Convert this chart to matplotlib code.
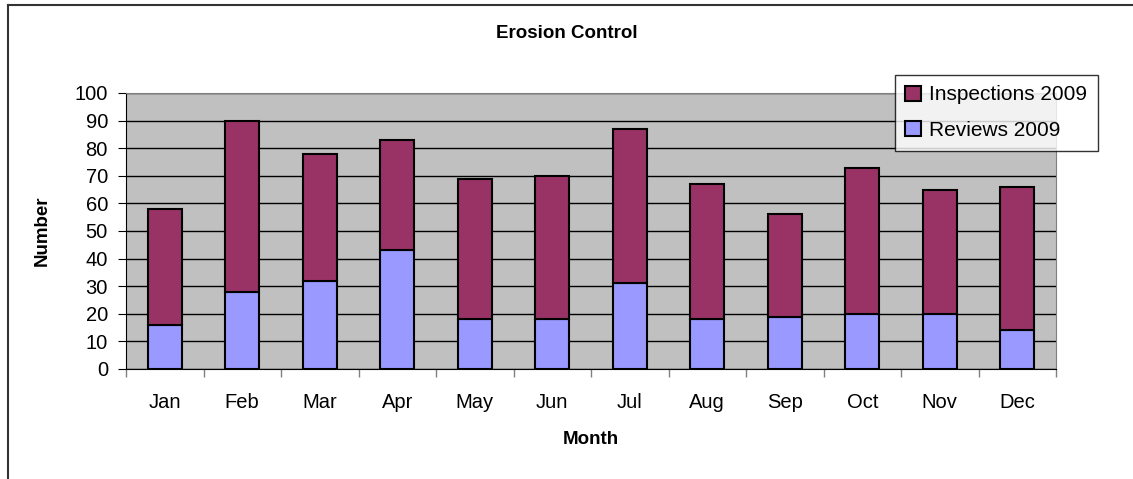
import matplotlib
matplotlib.use('Agg')
import matplotlib.pyplot as plt
import numpy as np
from matplotlib.lines import Line2D

months = ['Jan', 'Feb', 'Mar', 'Apr', 'May', 'Jun', 'Jul', 'Aug', 'Sep', 'Oct', 'Nov', 'Dec']
reviews = [16, 28, 32, 43, 18, 18, 31, 18, 19, 20, 20, 14]
inspections = [42, 62, 46, 40, 51, 52, 56, 49, 37, 53, 45, 52]

plt.rcParams['font.family'] = ['Liberation Sans', 'DejaVu Sans']

fig = plt.figure(figsize=(11.33, 4.79), dpi=100)
ax = fig.add_axes([126 / 1133, 1 - 369 / 479, (1056 - 126) / 1133, (369 - 93) / 479])
ax.set_facecolor('#C0C0C0')

x = np.arange(len(months))
w = 0.44
ax.bar(x, reviews, w, color='#9999FF', edgecolor='black', linewidth=1.5,
       label='Reviews 2009', zorder=3)
ax.bar(x, inspections, w, bottom=reviews, color='#993366', edgecolor='black',
       linewidth=1.5, label='Inspections 2009', zorder=3)

ax.set_xlim(-0.5, 11.5)
ax.set_ylim(0, 100)
ax.set_yticks(range(0, 101, 10))
ax.yaxis.grid(True, color='black', linewidth=1, zorder=1)
ax.set_axisbelow(True)

ax.set_xticks(x)
ax.set_xticklabels(months)
ax.set_xticks(np.arange(-0.5, 12, 1), minor=True)
ax.tick_params(axis='x', which='major', length=0, pad=17, labelsize=14.5)
ax.tick_params(axis='x', which='minor', length=6, color='#808080', width=1)
ax.tick_params(axis='y', length=6, color='black', labelsize=14.5, pad=7)

for s in ['top', 'right']:
    ax.spines[s].set_color('#808080')
ax.spines['left'].set_color('black')
ax.spines['bottom'].set_color('black')

ax.set_xlabel('Month', fontsize=13.5, fontweight='bold')
ax.set_ylabel('Number', fontsize=13.5, fontweight='bold')
ax.xaxis.set_label_coords(0.5, (369 - 440) / 276)
ax.yaxis.set_label_coords((42 - 126) / 930, 0.5)
ax.xaxis.label.set_va('center')
ax.yaxis.label.set_va('center')
fig.text(567 / 1133, 1 - 33 / 479, 'Erosion Control', ha='center', va='center',
         fontsize=13.5, fontweight='bold')

handles, labels = ax.get_legend_handles_labels()
leg = fig.legend(handles[::-1], labels[::-1], loc='upper left',
                 bbox_to_anchor=(895 / 1133, 1 - 75 / 479), fontsize=15,
                 frameon=True, fancybox=False, edgecolor='black',
                 handlelength=0.75, handleheight=0.75, handletextpad=0.4,
                 borderaxespad=0, labelspacing=0.8, borderpad=0.5)
leg.get_frame().set_linewidth(1)

# outer chart border
fig.add_artist(Line2D([7.5 / 1133, 7.5 / 1133], [0, 1 - 4.5 / 479], color='#333333', lw=1.5))
fig.add_artist(Line2D([7.5 / 1133, 1], [1 - 4.5 / 479, 1 - 4.5 / 479], color='#333333', lw=1.5))

fig.savefig('out.png', dpi=100)
